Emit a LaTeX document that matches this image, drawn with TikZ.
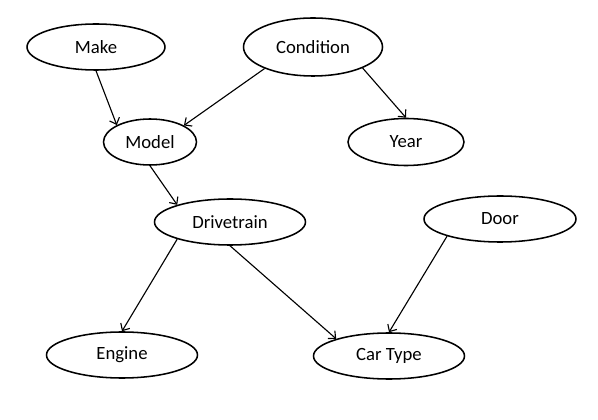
\documentclass[tikz,border=0pt]{standalone}
\usepackage{fontspec}
\setmainfont{Carlito}
\usepackage{tikz}
\usetikzlibrary{shapes.geometric,arrows.meta}

\begin{document}
\begin{tikzpicture}[every node/.style={font=\fontsize{13.3}{16}\selectfont},
    var/.style={draw, ellipse, line width=1.1pt, fill=white, minimum height=1.15cm, inner sep=0pt},
    link/.style={-{Straight Barb[length=4pt,width=7.5pt]}, line width=0.8pt}]
    \useasboundingbox (0,0) rectangle (14.95,10.475);

    % Top row
    \node[var, minimum width=3.45cm] (make) at (2.4,9.3) {Make};
    \node[var, minimum width=3.475cm, minimum height=1.45cm] (condition) at (7.825,9.3) {Condition};

    % Second row
    \node[var, minimum width=2.325cm] (model) at (3.75,6.925) {Model};
    \node[var, minimum width=2.9cm, minimum height=1.175cm] (year) at (10.15,6.925) {Year};

    % Middle
    \node[var, minimum width=3.775cm] (drive) at (5.75,4.925) {Drivetrain};
    \node[var, minimum width=3.8cm] (door) at (12.5,5.0) {Door};

    % Bottom row
    \node[var, minimum width=3.775cm] (engine) at (3.05,1.6) {Engine};
    \node[var, minimum width=3.775cm] (cartype) at (9.725,1.575) {Car Type};

    % Arrows
    \draw[link] (make.south) -- (model.153);
    \draw[link] (condition.204) -- (model.26);
    \draw[link] (condition.337) -- (year.north);
    \draw[link] (model.south) -- (drive.162);
    \draw[link] (drive.198) -- (engine.north);
    \draw[link] (drive.south) -- (cartype.162);
    \draw[link] (door.198) -- (cartype.north);
\end{tikzpicture}
\end{document}
